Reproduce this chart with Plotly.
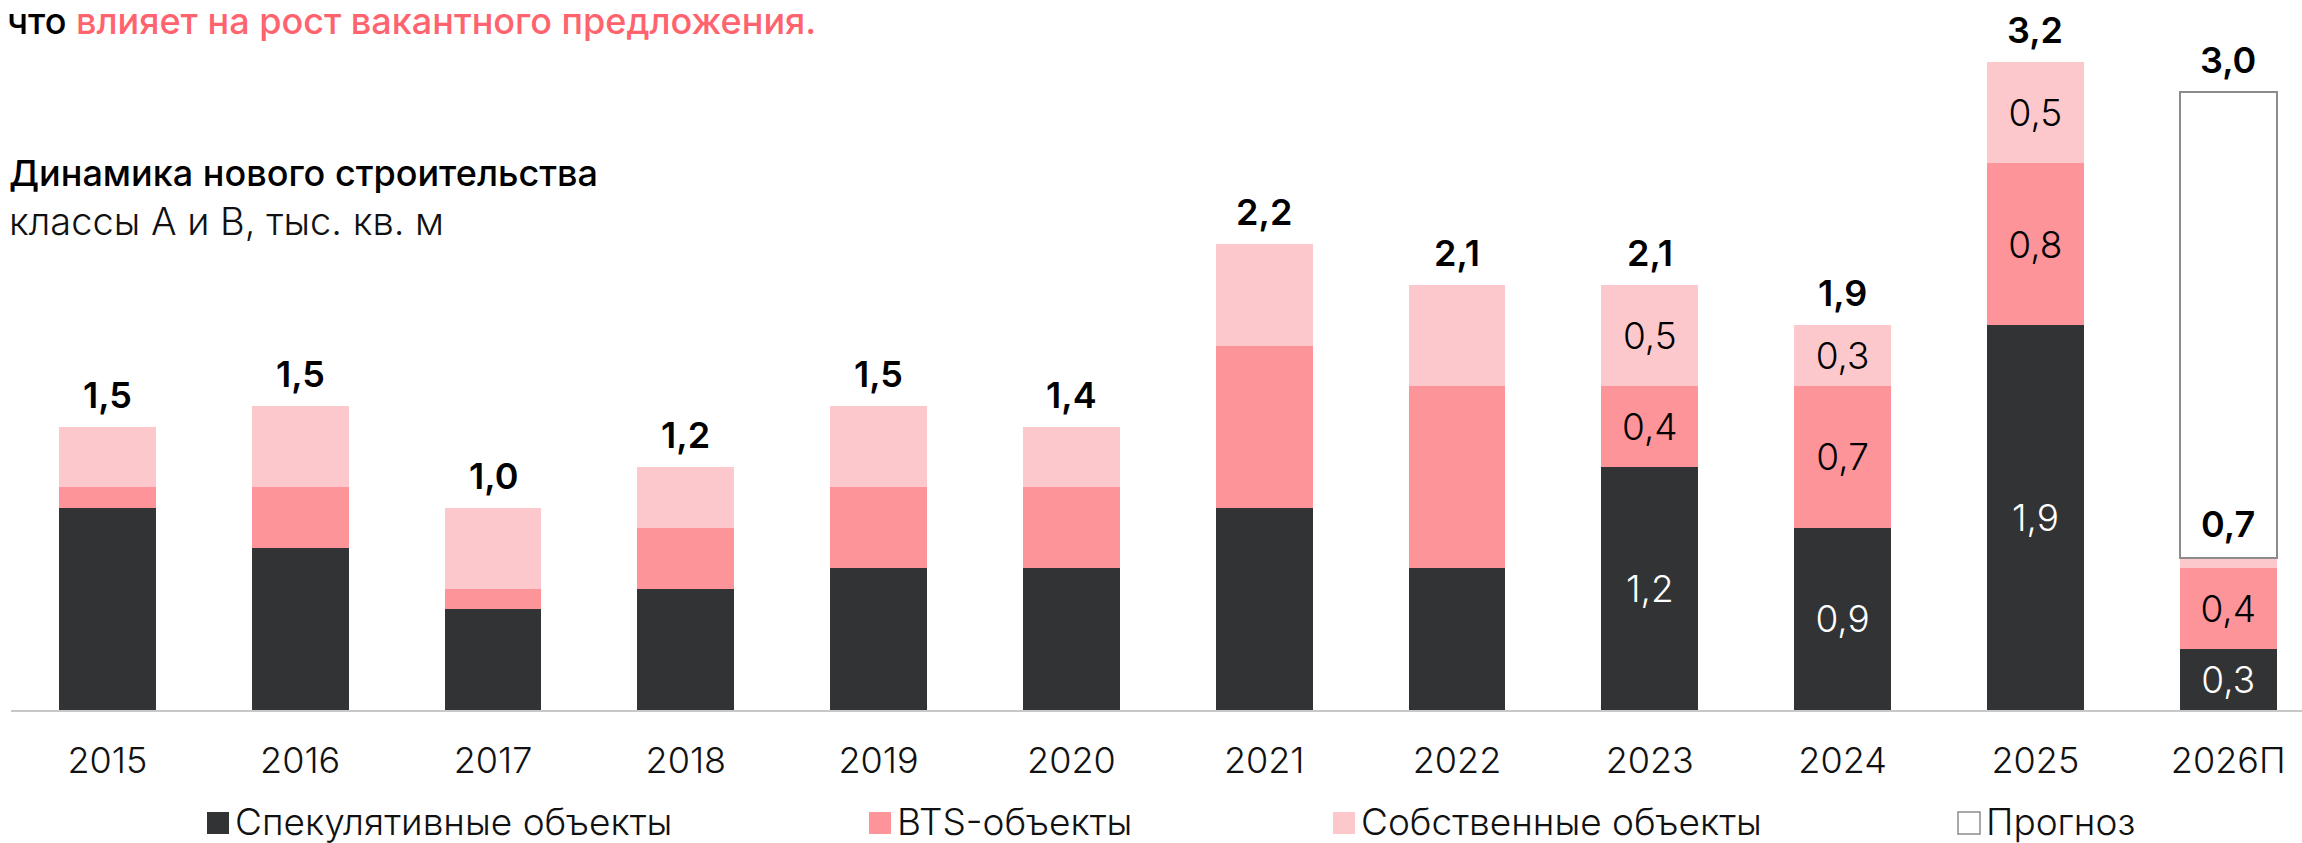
import plotly.graph_objects as go

# ---------------- data ----------------
years = ["2015", "2016", "2017", "2018", "2019", "2020",
         "2021", "2022", "2023", "2024", "2025", "2026П"]
spec = [1.0, 0.8, 0.5, 0.6, 0.7, 0.7, 1.0, 0.7, 1.2, 0.9, 1.9, 0.3]   # Спекулятивные объекты
bts = [0.1, 0.3, 0.1, 0.3, 0.4, 0.4, 0.8, 0.9, 0.4, 0.7, 0.8, 0.4]    # BTS-объекты
own = [0.3, 0.4, 0.4, 0.3, 0.4, 0.3, 0.5, 0.5, 0.5, 0.3, 0.5, 0.05]   # Собственные объекты
forecast_years = ["2026П"]
forecast = [2.3]                                                     # Прогноз (remaining)

total_labels = ["1,5", "1,5", "1,0", "1,2", "1,5", "1,4",
                "2,2", "2,1", "2,1", "1,9", "3,2", "3,0"]
fact_label_2026 = "0,7"
spec_labels = ["", "", "", "", "", "", "", "", "1,2", "0,9", "1,9", "0,3"]
bts_labels = ["", "", "", "", "", "", "", "", "0,4", "0,7", "0,8", "0,4"]
own_labels = ["", "", "", "", "", "", "", "", "0,5", "0,3", "0,5", ""]

series_names = ["Спекулятивные объекты", "BTS-объекты", "Собственные объекты", "Прогноз"]

# ---------------- style ----------------
C_DARK = "#323335"
C_BTS = "#FC9499"
C_OWN = "#FDC8CC"
C_RED = "#FF636E"
C_LINE = "#C8C8C8"
C_BOX = "#8C8C8C"
FONT = "Inter"

W, H = 2302, 843
ML, MR, MT, MB = 11, 0, 46, 133
PW, PH = W - ML - MR, H - MT - MB
BASE_PX = H - MB
PX_PER_UNIT = 202.5
SLOT = 192.8


def px_x(px):
    return (px - ML) / PW


def px_y(py):
    return (BASE_PX - py) / PH


fig = go.Figure()

inside_font = dict(family=FONT, size=37, weight=300)
fig.add_bar(x=years, y=spec, name=series_names[0], marker=dict(color=C_DARK, line=dict(width=0)),
            text=spec_labels, textposition="inside", insidetextanchor="middle",
            textfont=dict(inside_font, color="white"), constraintext="none", textangle=0,
            showlegend=False)
fig.add_bar(x=years, y=bts, name=series_names[1], marker=dict(color=C_BTS, line=dict(width=0)),
            text=bts_labels, textposition="inside", insidetextanchor="middle",
            textfont=dict(inside_font, color="black"), constraintext="none", textangle=0,
            showlegend=False)
fig.add_bar(x=years, y=own, name=series_names[2], marker=dict(color=C_OWN, line=dict(width=0)),
            text=own_labels, textposition="inside", insidetextanchor="middle",
            textfont=dict(inside_font, color="black"), constraintext="none", textangle=0,
            showlegend=False)
fig.add_bar(x=forecast_years, y=forecast, name=series_names[3],
            marker=dict(color="white", line=dict(color=C_BOX, width=2)),
            showlegend=False)

annotations = []
shapes = []

# totals above the stacks
lab_font = dict(family=FONT, size=36, weight=600, color="black")
for i, yr in enumerate(years):
    top = spec[i] + bts[i] + own[i]
    if yr in forecast_years:
        fact_top = top
        top = top + forecast[forecast_years.index(yr)]
        annotations.append(dict(x=i, y=fact_top, xref="x", yref="y", text=fact_label_2026,
                                showarrow=False, yanchor="middle", yshift=34, font=lab_font))
    annotations.append(dict(x=i, y=top, xref="x", yref="y", text=total_labels[i],
                            showarrow=False, yanchor="middle", yshift=32, font=lab_font))

# legend (swatch + label), laid out like the original
legend_colors = [C_DARK, C_BTS, C_OWN, "white"]
legend_line = [None, None, None, C_BOX]
legend_sq_px = [207, 869, 1333, 1958]
LEG_Y = 821
for i, nm in enumerate(series_names):
    x0 = legend_sq_px[i]
    shapes.append(dict(type="rect", xref="paper", yref="paper",
                       x0=px_x(x0), x1=px_x(x0 + 22), y0=px_y(LEG_Y + 13), y1=px_y(LEG_Y - 9),
                       fillcolor=legend_colors[i],
                       line=dict(width=1.5 if legend_line[i] else 0, color=legend_line[i] or legend_colors[i])))
    annotations.append(dict(xref="paper", yref="paper", x=px_x(x0 + 27), y=px_y(LEG_Y),
                            xanchor="left", yanchor="middle", showarrow=False, text=nm, borderpad=0,
                            font=dict(family=FONT, size=37, weight=300, color="#111111")))

# headings
annotations.append(dict(xref="paper", yref="paper", x=px_x(6), y=px_y(21), xanchor="left", yanchor="middle",
                        showarrow=False, borderpad=0,
                        text=f"что <span style='color:{C_RED}'>влияет на рост вакантного предложения.</span>",
                        font=dict(family=FONT, size=36, weight=500, color="black")))
annotations.append(dict(xref="paper", yref="paper", x=px_x(8), y=px_y(173), xanchor="left", yanchor="middle",
                        showarrow=False, borderpad=0, text="Динамика нового строительства",
                        font=dict(family=FONT, size=36, weight=500, color="black")))
annotations.append(dict(xref="paper", yref="paper", x=px_x(8), y=px_y(221), xanchor="left", yanchor="middle",
                        showarrow=False, borderpad=0, text="классы А и В, тыс. кв. м",
                        font=dict(family=FONT, size=38, weight=300, color="#111111")))

fig.update_layout(
    width=W, height=H, autosize=False,
    margin=dict(l=ML, r=MR, t=MT, b=MB, pad=0),
    barmode="stack", bargap=0.497,
    plot_bgcolor="white", paper_bgcolor="white",
    annotations=annotations, shapes=shapes,
    showlegend=False,
    xaxis=dict(type="category", categoryorder="array", categoryarray=years,
               range=[-0.5, -0.5 + PW / SLOT], showgrid=False, zeroline=False,
               showline=True, linecolor=C_LINE, linewidth=2, ticks="",
               ticklabelstandoff=18, automargin=False,
               tickfont=dict(family=FONT, size=36, weight=300, color="#111111")),
    yaxis=dict(visible=False, range=[0, PH / PX_PER_UNIT], showgrid=False, zeroline=False),
    hovermode=False,
)

fig.write_html("out.html", config={"displayModeBar": False},
               post_script="document.body.style.margin='0';document.body.style.overflow='hidden';")
